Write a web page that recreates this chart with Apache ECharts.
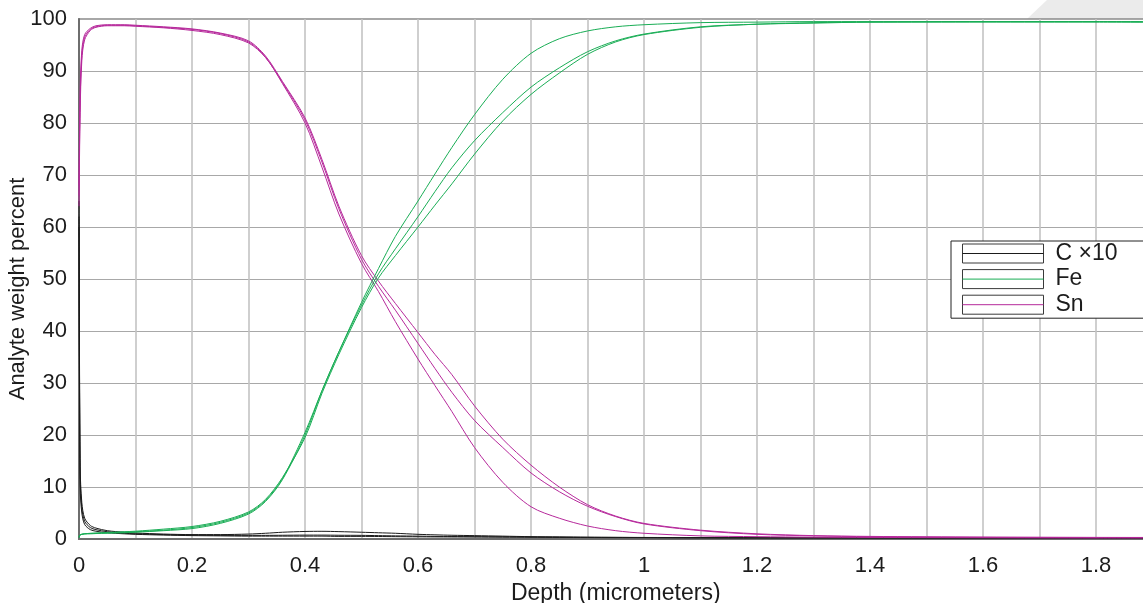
<!DOCTYPE html>
<html>
<head>
<meta charset="utf-8">
<title>Depth profile</title>
<script src="https://cdn.jsdelivr.net/npm/echarts@6/dist/echarts.min.js"></script>
<style>
  html, body { margin: 0; padding: 0; background: #fff; }
  #chart { width: 1143px; height: 603px; }
</style>
</head>
<body>
<div id="chart"></div>
<script>
// Sampled depths (micrometers), shared by every profile
const depth = [0, 0.002, 0.005, 0.01, 0.02, 0.03, 0.05, 0.08, 0.1, 0.15, 0.2, 0.25, 0.3, 0.33, 0.36,
  0.4, 0.43, 0.46, 0.5, 0.53, 0.56, 0.6, 0.63, 0.66, 0.7, 0.75, 0.8, 0.85, 0.9, 0.95, 1.0,
  1.1, 1.2, 1.3, 1.4, 1.6, 1.8, 1.9];

// Tin, three runs (weight %)
const sn1 = [66, 84, 93, 96.5, 98.0, 98.5, 98.8, 98.8, 98.7, 98.4, 98.0, 97.2, 95.6, 92.7, 87.6,
  80.0, 71.5, 62.5, 53.0, 47.6, 41.8, 34.6, 29.5, 24.5, 17.6, 10.9, 6.2, 4.0, 2.5, 1.6, 1.1,
  0.6, 0.45, 0.35, 0.3, 0.25, 0.2, 0.2];
const sn2 = [64, 82, 92, 96.0, 97.8, 98.4, 98.7, 98.7, 98.6, 98.3, 97.8, 97.0, 95.4, 92.6, 87.8,
  80.6, 72.5, 63.5, 53.8, 48.6, 44.0, 37.6, 32.8, 28.2, 22.8, 17.6, 12.7, 9.1, 6.3, 4.3, 2.9,
  1.6, 0.9, 0.6, 0.45, 0.35, 0.3, 0.28];
const sn3 = [68, 86, 94, 97.0, 98.2, 98.7, 98.9, 98.9, 98.8, 98.5, 98.1, 97.3, 95.8, 92.9, 88.0,
  81.0, 73.0, 64.0, 54.5, 49.6, 45.3, 39.7, 35.5, 31.6, 25.6, 19.2, 14.2, 10.0, 6.6, 4.4, 3.0,
  1.7, 1.0, 0.65, 0.5, 0.35, 0.3, 0.3];

// Iron, three runs (weight %)
const fe1 = [0.3, 0.8, 0.9, 1.0, 1.0, 1.05, 1.1, 1.2, 1.3, 1.6, 2.0, 3.0, 4.8, 7.2, 11.4,
  20.0, 28.5, 36.0, 45.5, 52.0, 58.2, 65.0, 70.2, 75.3, 81.6, 88.4, 93.4, 96.2, 97.7, 98.5, 98.9,
  99.3, 99.4, 99.5, 99.5, 99.5, 99.5, 99.4];
const fe2 = [0.3, 0.8, 0.9, 1.0, 1.05, 1.1, 1.2, 1.3, 1.4, 1.7, 2.2, 3.2, 5.0, 7.4, 11.6,
  20.5, 28.5, 36.0, 45.0, 51.0, 55.8, 62.0, 66.8, 71.4, 76.6, 82.0, 86.9, 90.6, 93.7, 95.8, 97.1,
  98.5, 99.0, 99.3, 99.4, 99.5, 99.5, 99.5];
const fe3 = [0.3, 0.8, 0.9, 1.0, 1.1, 1.15, 1.25, 1.4, 1.5, 1.9, 2.4, 3.4, 5.2, 7.6, 11.8,
  19.5, 28.0, 35.5, 44.5, 50.2, 54.5, 60.0, 64.2, 68.3, 74.0, 80.4, 85.5, 89.6, 93.2, 95.6, 97.0,
  98.4, 99.0, 99.2, 99.4, 99.4, 99.4, 99.4];

// Carbon, three runs (weight % scaled by 10)
const c1 = [65, 14, 7.0, 4.0, 2.6, 2.1, 1.6, 1.3, 1.15, 0.95, 0.85, 0.85, 0.95, 1.1, 1.3,
  1.45, 1.48, 1.42, 1.3, 1.2, 1.1, 0.9, 0.8, 0.72, 0.65, 0.55, 0.45, 0.4, 0.35, 0.32, 0.3,
  0.27, 0.25, 0.25, 0.24, 0.22, 0.2, 0.2];
const c2 = [62, 12, 6.0, 3.4, 2.2, 1.8, 1.4, 1.1, 1.0, 0.85, 0.75, 0.7, 0.7, 0.7, 0.72,
  0.75, 0.75, 0.72, 0.7, 0.65, 0.6, 0.55, 0.5, 0.48, 0.45, 0.42, 0.38, 0.35, 0.32, 0.3, 0.28,
  0.25, 0.22, 0.22, 0.21, 0.2, 0.2, 0.2];
const c3 = [60, 10, 5.0, 2.8, 1.8, 1.5, 1.2, 1.0, 0.9, 0.75, 0.65, 0.6, 0.55, 0.55, 0.55,
  0.55, 0.55, 0.5, 0.5, 0.48, 0.45, 0.42, 0.4, 0.39, 0.38, 0.35, 0.33, 0.3, 0.28, 0.26, 0.25,
  0.22, 0.2, 0.2, 0.19, 0.18, 0.18, 0.18];

// Axis tick settings
const xTickStep = 0.1;
const yTicks = [0, 10, 20, 30, 40, 50, 60, 70, 80, 90, 100];

const legendNames = ['C \u00d710', 'Fe', 'Sn'];
const colors = { C: '#1b1b1b', Fe: '#19ad55', Sn: '#b6299b' };

const FONT = 'Liberation Sans, Arial, Helvetica, sans-serif';
const TEXT = '#1c1c1c';

function pairs(values) {
  return depth.map((d, i) => [d, values[i]]);
}

function lineSeries(name, color, values) {
  return {
    type: 'line',
    name: name,
    data: pairs(values),
    showSymbol: false,
    symbol: 'circle',
    smooth: 0.3,
    lineStyle: { color: color, width: 1 },
    itemStyle: { color: color },
    emphasis: { disabled: true },
    z: 3
  };
}

const series = [
  lineSeries(legendNames[0], colors.C, c1),
  lineSeries(legendNames[0], colors.C, c2),
  lineSeries(legendNames[0], colors.C, c3),
  lineSeries(legendNames[2], colors.Sn, sn1),
  lineSeries(legendNames[2], colors.Sn, sn2),
  lineSeries(legendNames[2], colors.Sn, sn3),
  lineSeries(legendNames[1], colors.Fe, fe1),
  lineSeries(legendNames[1], colors.Fe, fe2),
  lineSeries(legendNames[1], colors.Fe, fe3)
];

const legendBase = {
  data: legendNames,
  orient: 'vertical',
  left: 951,
  top: 241,
  padding: [1, 44, 2, 11],
  itemWidth: 81,
  itemHeight: 19,
  itemGap: 2.6,
  selectedMode: false,
  textStyle: { fontFamily: FONT, fontSize: 23, color: TEXT, padding: [0, 0, 0, 7] }
};

const chart = echarts.init(document.getElementById('chart'), null, { renderer: 'canvas' });

chart.setOption({
  animation: false,
  backgroundColor: '#ffffff',
  textStyle: { fontFamily: FONT },
  graphic: [{
    type: 'polygon',
    z: -10,
    silent: true,
    shape: { points: [[1027, 19], [1047, 0], [1143, 0], [1143, 19]] },
    style: { fill: '#ebebeb' }
  }],
  grid: {
    left: 79,
    top: 19,
    width: 1073.5,
    height: 520,
    containLabel: false,
    outerBoundsMode: 'none',
    show: true,
    backgroundColor: '#ffffff',
    borderColor: '#8a8a8a',
    borderWidth: 1.5
  },
  legend: [
    Object.assign({}, legendBase, {
      z: 6,
      icon: 'rect',
      backgroundColor: '#ffffff',
      borderColor: '#222222',
      borderWidth: 1,
      itemStyle: { color: '#ffffff', borderColor: '#3a3a3a', borderWidth: 1 }
    }),
    Object.assign({}, legendBase, {
      z: 7,
      borderWidth: 0,
      backgroundColor: 'transparent',
      itemStyle: { opacity: 0 },
      lineStyle: { width: 1 },
      textStyle: Object.assign({}, legendBase.textStyle, { color: 'rgba(0,0,0,0)' })
    })
  ],
  xAxis: {
    type: 'value',
    min: 0,
    max: 1.9,
    interval: xTickStep,
    name: 'Depth (micrometers)',
    nameLocation: 'middle',
    nameGap: 42,
    nameTextStyle: { fontFamily: FONT, fontSize: 23, color: TEXT },
    axisLine: { show: true, onZero: false, lineStyle: { color: '#6e6e6e', width: 2 } },
    axisTick: { show: false },
    axisLabel: {
      fontFamily: FONT,
      fontSize: 22,
      color: TEXT,
      margin: 16,
      showMaxLabel: true,
      formatter: function (v) {
        const k = Math.round(v * 10);
        if (Math.abs(v * 10 - k) > 1e-6 || k % 2 !== 0) return '';
        return String(+(k / 10).toFixed(1));
      }
    },
    splitLine: { show: true, lineStyle: { color: '#c3c3c3', width: 1.6 } }
  },
  yAxis: {
    type: 'value',
    min: yTicks[0],
    max: yTicks[yTicks.length - 1],
    interval: yTicks[1] - yTicks[0],
    name: 'Analyte weight percent',
    nameLocation: 'middle',
    nameGap: 50,
    nameMoveOverlap: false,
    nameTextStyle: { fontFamily: FONT, fontSize: 22, color: TEXT, padding: [0, 20, 0, 0] },
    axisLine: { show: true, lineStyle: { color: '#6e6e6e', width: 2 } },
    axisTick: { show: false },
    axisLabel: { fontFamily: FONT, fontSize: 22, color: TEXT, margin: 12 },
    splitLine: { show: true, lineStyle: { color: '#a8a8a8', width: 1.2 } }
  },
  series: series
});
</script>
</body>
</html>
